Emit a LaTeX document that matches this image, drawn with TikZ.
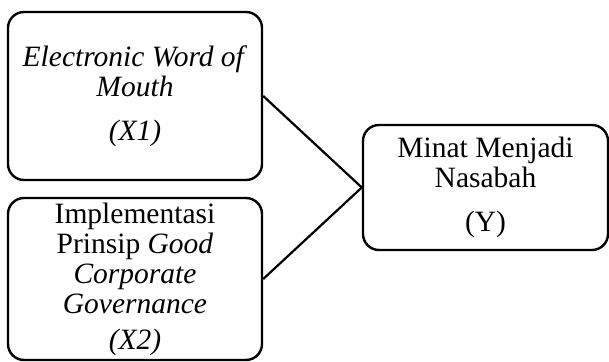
\documentclass[tikz,border=0pt]{standalone}
\usepackage{fontspec}
\setmainfont{Liberation Serif}
\begin{document}
\begin{tikzpicture}[x=1pt, y=1pt, every node/.style={font=\fontsize{29.5}{30}\selectfont},
    varbox/.style={draw, line width=2.4pt, rounded corners=16pt, align=center, inner sep=0pt}]

    \useasboundingbox (0,0) rectangle (609,361);

    % Independent variables
    % X1: Electronic Word of Mouth
    \node[varbox, minimum width=254pt, minimum height=168pt] (X1) at (135,265) {\textit{Electronic Word of}\\\textit{Mouth}\\[14pt]\textit{(X1)}};

    % X2: Implementasi Prinsip Good Corporate Governance
    \node[varbox, minimum width=254pt, minimum height=162pt] (X2) at (135,82) {Implementasi\\Prinsip \textit{Good}\\\textit{Corporate}\\\textit{Governance}\\[6pt]\textit{(X2)}};

    % Dependent variable
    \node[varbox, minimum width=245pt, minimum height=125pt] (Y) at (485.5,173.5) {Minat Menjadi\\Nasabah\\[14pt](Y)};

    % Connectors
    \draw[line width=2.2pt] (X1.east) -- (Y.west);
    \draw[line width=2.2pt] (X2.east) -- (Y.west);

\end{tikzpicture}
\end{document}
